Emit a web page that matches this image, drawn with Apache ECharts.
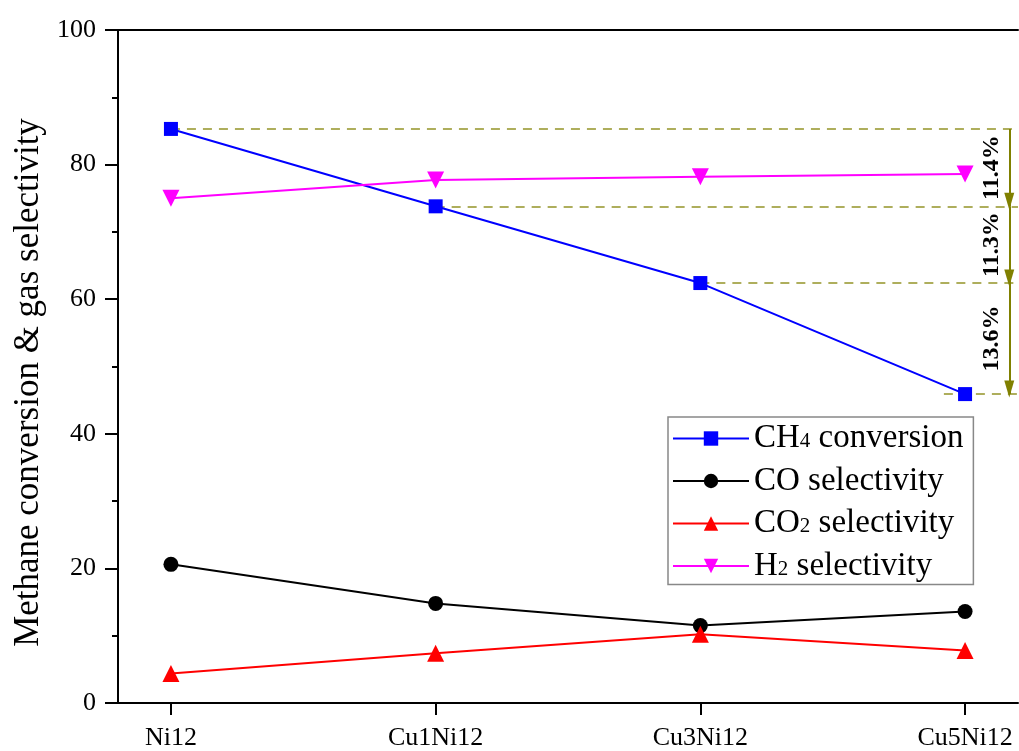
<!DOCTYPE html>
<html>
<head>
<meta charset="utf-8">
<script src="https://cdn.jsdelivr.net/npm/echarts@6/dist/echarts.min.js"></script>
<style>
  html, body { margin: 0; padding: 0; background: #fff; }
  #chart { width: 1019px; height: 751px; }
</style>
</head>
<body>
<div id="chart"></div>
<script>
// Catalysts along the x axis
const catalysts = ['Ni12', 'Cu1Ni12', 'Cu3Ni12', 'Cu5Ni12'];

// Measured values (%)
const ch4Conversion = [85.3, 73.8, 62.4, 45.9];
const coSelectivity = [20.6, 14.8, 11.5, 13.6];
const co2Selectivity = [4.4, 7.4, 10.2, 7.8];
const h2Selectivity = [75.0, 77.7, 78.2, 78.6];

// Drop annotations between successive CH4 conversion levels
const dropLabels = ['11.4%', '11.3%', '13.6%'];

// Y axis ticks
const yTicks = [0, 20, 40, 60, 80, 100];

const SERIF = '"Liberation Serif", "Times New Roman", serif';
const OLIVE = '#808000';
const X_MIN = -0.2, X_MAX = 3.2;
const ARROW_X = 3.167;   // x position of the drop arrows
const LABEL_X = 3.1;     // x position of the drop labels

const pairs = arr => arr.map((v, i) => [i, v]);

// Dashed guide lines from each CH4 point to the right edge
const guideLines = ch4Conversion.map((v, i) => [
  { coord: [i === ch4Conversion.length - 1 ? i - 0.08 : i, v] },
  { coord: [X_MAX, v] }
]);
// Arrows between successive CH4 levels
const arrowLines = dropLabels.map((_, i) => [
  { coord: [ARROW_X, ch4Conversion[i]], symbol: 'none' },
  { coord: [ARROW_X, ch4Conversion[i + 1]], symbol: 'triangle', symbolSize: [10, 17], symbolRotate: 180, symbolOffset: [0, 5] }
]);

const chart = echarts.init(document.getElementById('chart'));

const seriesStyle = (name, data, color, symbol, size, rotate) => ({
  name, type: 'line', data: pairs(data),
  symbol, symbolSize: size, symbolRotate: rotate || 0,
  lineStyle: { color, width: 2 },
  itemStyle: { color },
  z: 5
});

chart.setOption({
  animation: false,
  backgroundColor: '#fff',
  grid: { left: 118, top: 30, right: 1, bottom: 46, containLabel: false },
  xAxis: [{
    type: 'value', min: X_MIN, max: X_MAX,
    splitLine: { show: false },
    axisLine: { onZero: false, lineStyle: { color: '#000', width: 2 } },
    axisTick: { show: true, inside: false, length: 12, lineStyle: { color: '#000', width: 2 }, customValues: [0, 1, 2, 3] },
    axisLabel: {
      customValues: [0, 1, 2, 3],
      formatter: v => catalysts[Math.round(v)] || '',
      color: '#000', fontFamily: SERIF, fontSize: 26, margin: 22
    }
  }, {
    type: 'value', min: X_MIN, max: X_MAX, position: 'top',
    splitLine: { show: false },
    axisLine: { show: true, onZero: false, lineStyle: { color: '#000', width: 2 } },
    axisTick: { show: false }, axisLabel: { show: false }
  }],
  yAxis: {
    type: 'value', min: yTicks[0], max: yTicks[yTicks.length - 1], interval: 20,
    name: 'Methane conversion & gas selectivity',
    nameLocation: 'middle', nameGap: 71,
    nameTextStyle: { fontFamily: SERIF, fontSize: 35, color: '#000', padding: [0, 32, 0, 0] },
    splitLine: { show: false },
    axisLine: { show: true, onZero: false, lineStyle: { color: '#000', width: 2 } },
    axisTick: { show: true, inside: false, length: 13, lineStyle: { color: '#000', width: 2 } },
    minorTick: { show: true, splitNumber: 2, length: 6, lineStyle: { color: '#000', width: 2 } },
    axisLabel: { color: '#000', fontFamily: SERIF, fontSize: 26, margin: 22 }
  },
  legend: {
    orient: 'vertical', left: 668, top: 417,
    padding: [5, 10, 2, 4],
    itemGap: 9.5, itemWidth: 76, itemHeight: 18,
    borderColor: '#888', borderWidth: 1.5, backgroundColor: '#fff',
    data: ['CH4 conversion', 'CO selectivity', 'CO2 selectivity', 'H2 selectivity'],
    formatter: name => {
      const m = name.match(/^([A-Z]+)(\d?)(.*)$/);
      return m[2] ? `{t|${m[1]}}{s|${m[2]}}{t|${m[3]}}` : `{t|${name}}`;
    },
    textStyle: {
      fontFamily: SERIF, fontSize: 33, color: '#000',
      rich: {
        t: { fontFamily: SERIF, fontSize: 33, color: '#000', height: 32, verticalAlign: 'bottom' },
        s: { fontFamily: SERIF, fontSize: 21, color: '#000', height: 32, verticalAlign: 'bottom', padding: [0, 0, -3, 0] }
      }
    }
  },
  series: [
    Object.assign(seriesStyle('CH4 conversion', ch4Conversion, '#0000ff', 'rect', 14), {
      markLine: {
        silent: true, symbol: 'none', animation: false,
        lineStyle: { color: OLIVE, type: [9, 7], width: 1.5, opacity: 0.85 },
        label: { show: false },
        data: guideLines
      }
    }),
    seriesStyle('CO selectivity', coSelectivity, '#000000', 'circle', 15),
    seriesStyle('CO2 selectivity', co2Selectivity, '#ff0000', 'triangle', 17),
    seriesStyle('H2 selectivity', h2Selectivity, '#ff00ff', 'triangle', 17, 180),
    {
      // Arrows marking each drop in CH4 conversion
      name: 'drops', type: 'line', data: [], silent: true,
      markLine: {
        silent: true, animation: false,
        lineStyle: { color: OLIVE, type: 'solid', width: 2 },
        itemStyle: { color: OLIVE },
        label: { show: false },
        data: arrowLines
      }
    },
    {
      // Drop percentages written vertically beside the arrows
      name: 'dropText', type: 'custom', silent: true,
      data: dropLabels.map((t, i) => [LABEL_X, (ch4Conversion[i] + ch4Conversion[i + 1]) / 2, i]),
      renderItem: (params, api) => {
        const p = api.coord([api.value(0), api.value(1)]);
        return {
          type: 'text', x: p[0], y: p[1], rotation: Math.PI / 2,
          style: {
            text: dropLabels[api.value(2)], fontFamily: SERIF, fontSize: 24,
            fontWeight: 'bold', fill: '#000', align: 'center', verticalAlign: 'middle'
          }
        };
      },
      z: 6
    }
  ]
});
</script>
</body>
</html>
